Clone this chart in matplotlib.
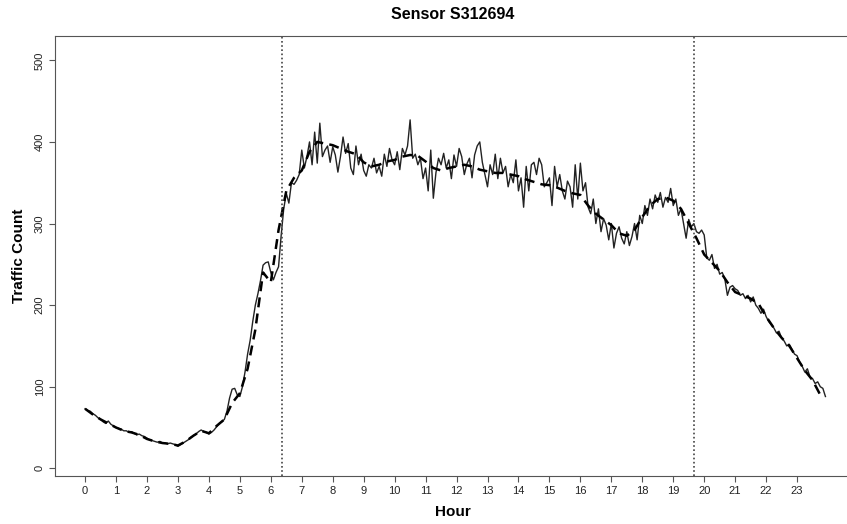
import numpy as np
import matplotlib
matplotlib.use('Agg')
import matplotlib.pyplot as plt

plt.rcParams['font.family'] = ['Liberation Sans', 'DejaVu Sans']

# observed counts, 5-minute steps, one row per hour
observed = [
    73, 71, 70, 67, 65, 62, 60, 57, 55, 58, 54, 52,
    50, 49, 48, 46, 46, 44, 45, 43, 41, 42, 40, 39,
    37, 35, 34, 33, 32, 33, 31, 31, 30, 31, 30, 29,
    27, 29, 31, 33, 35, 38, 40, 42, 45, 47, 45, 44,
    42, 44, 47, 51, 55, 57, 60, 70, 86, 97, 98, 90,
    88, 100, 118, 140, 157, 180, 200, 214, 230, 249, 252, 253,
    240, 231, 240, 247, 285, 318, 337, 325, 350, 348, 353, 360,
    390, 368, 382, 400, 372, 412, 374, 423, 382, 390, 395, 375,
    394, 384, 363, 382, 406, 386, 398, 368, 360, 395, 372, 385,
    365, 358, 372, 368, 380, 362, 370, 358, 385, 370, 392, 378,
    372, 388, 366, 392, 384, 395, 427, 380, 385, 372, 380, 355,
    368, 340, 390, 331, 362, 380, 372, 386, 368, 378, 355, 384,
    370, 392, 382, 360, 373, 380, 356, 384, 395, 400, 375, 360,
    345, 372, 360, 385, 355, 380, 362, 370, 345, 360, 350, 378,
    340, 356, 320, 370, 340, 372, 375, 360, 380, 372, 345, 350,
    356, 322, 370, 345, 360, 340, 330, 352, 345, 320, 372, 330,
    374, 340, 350, 320, 312, 330, 300, 318, 290, 306, 298, 280,
    300, 270, 288, 296, 282, 275, 290, 273, 284, 300, 280, 310,
    300, 322, 310, 330, 318, 335, 326, 338, 320, 332, 326, 343,
    322, 330, 310, 318, 300, 282, 305, 296, 300, 290, 288, 292,
    286, 258, 255, 262, 245, 250, 238, 240, 232, 212, 222, 224,
    220, 218, 212, 214, 208, 212, 204, 210, 200, 196, 190, 195,
    186, 180, 176, 172, 166, 168, 160, 156, 150, 152, 146, 140,
    138, 130, 125, 118, 122, 112, 110, 104, 106, 100, 98, 88,
]

# smoothed profile, 15-minute steps
smoothed = [
    73, 66, 60, 55,
    50, 46, 44, 41,
    36, 33, 31, 30,
    28, 33, 40, 46,
    43, 52, 60, 80,
    92, 122, 170, 240,
    228, 292, 340, 356,
    365, 388, 400, 398,
    396, 392, 388, 385,
    375, 370, 372, 376,
    378, 382, 384, 383,
    376, 368, 365, 368,
    370, 372, 370, 366,
    364, 362, 362, 360,
    358, 354, 351, 348,
    347, 344, 340, 337,
    335, 322, 312, 305,
    298, 288, 285, 292,
    308, 322, 330, 332,
    328, 318, 300, 282,
    262, 252, 242, 228,
    216, 212, 208, 202,
    186, 172, 160, 150,
    135, 120, 108, 90,
]

hours = list(range(24))
yticks = [0, 100, 200, 300, 400, 500]
markers = [6.37, 19.68]

t_obs = np.arange(len(observed)) * 5 / 60
t_smooth = np.arange(len(smoothed)) * 15 / 60

fig = plt.figure(figsize=(8.47, 5.24), dpi=100)
ax = fig.add_axes([0.065, 0.0916, 0.94, 0.8397])

ax.plot(t_obs, observed, color='#222222', lw=1.0)
ax.plot(t_smooth, smoothed, color='black', lw=1.8, ls=(0, (4, 2.5)))
for m in markers:
    ax.axvline(m, color='#444444', lw=1.2, ls=(0, (1, 1.5)))

ax.set_xlim(-0.97, 24.75)
ax.set_ylim(-9.4, 529.8)
ax.set_xticks(hours)
ax.set_yticks(yticks)
ax.tick_params(labelsize=8, length=4, color='#555555', labelcolor='#222222')
plt.setp(ax.get_yticklabels(), rotation=90, va='center')
for s in ax.spines.values():
    s.set_color('#555555')

ax.set_title('Sensor S312694', fontsize=11.5, fontweight='bold', pad=12)
ax.set_xlabel('Hour', fontsize=11, fontweight='bold', labelpad=6)
ax.set_ylabel('Traffic Count', fontsize=11, fontweight='bold', labelpad=6)

fig.savefig('out.png', dpi=100)
